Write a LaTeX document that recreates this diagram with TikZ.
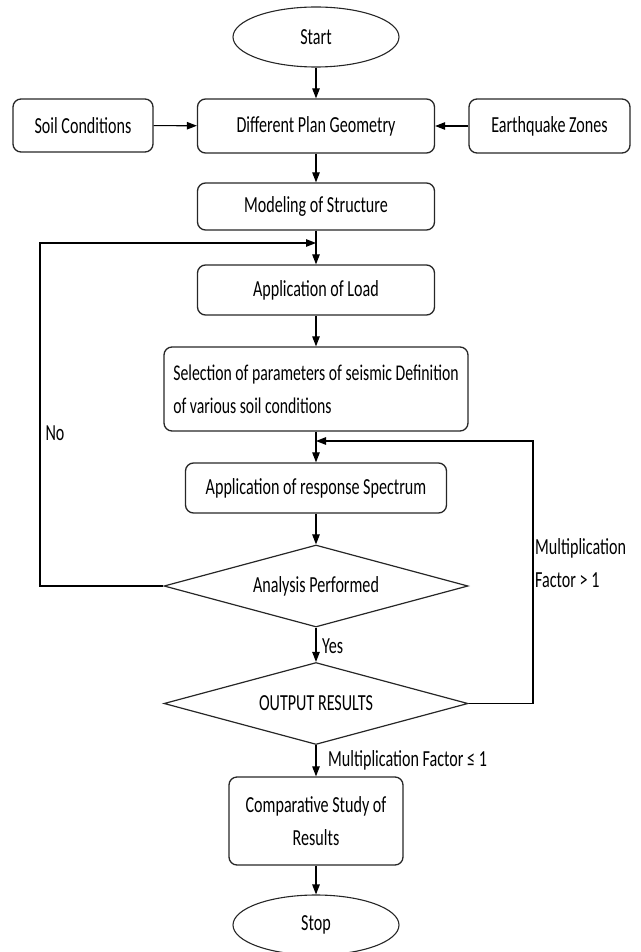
\documentclass[tikz,border=0pt]{standalone}
\usepackage{fontspec}
\setmainfont{Carlito}[FakeStretch=0.7]
\usetikzlibrary{shapes.geometric,arrows.meta}
\begin{document}
\begin{tikzpicture}[x=1pt,y=-1pt,
  every node/.style={font=\fontsize{23}{33}\selectfont, text=black},
  box/.style={draw=black!85, rounded corners=8pt, line width=1.3pt, inner sep=0pt, align=center},
  oval/.style={draw=black!85, ellipse, line width=1.1pt, inner sep=0pt, minimum width=166pt, minimum height=60pt},
  dia/.style={draw=black!85, diamond, aspect=3.7, line width=1.2pt, inner sep=0pt, minimum width=304pt, minimum height=82pt},
  lbl/.style={inner sep=0pt, align=left},
  arr/.style={line width=1.1pt, -{Triangle[length=10pt,width=7.5pt]}}]
\useasboundingbox (0,0) rectangle (640,952);
% nodes
\node[oval] (start) at (316,37) {Start};
\node[box, minimum width=140pt, minimum height=53pt] (soil) at (83,125.5) {Soil Conditions};
\node[box, minimum width=237pt, minimum height=54pt] (diff) at (316,126) {Different Plan Geometry};
\node[box, minimum width=161pt, minimum height=54pt] (quake) at (549.5,126) {Earthquake Zones};
\node[box, minimum width=237pt, minimum height=47pt] (model) at (316,206.5) {Modeling of Structure};
\node[box, minimum width=237pt, minimum height=50pt] (load) at (316,290) {Application of Load};
\node[box, minimum width=304pt, minimum height=84pt, align=left, font=\fontsize{22.5}{33}\selectfont] (sel) at (316,389)
  {Selection of parameters of seismic Definition\\of various soil conditions};
\node[box, minimum width=261pt, minimum height=50pt] (resp) at (316,488) {Application of response Spectrum};
\node[dia] (ana) at (316,586) {Analysis Performed};
\node[dia] (out) at (316,703.5) {OUTPUT RESULTS};
\node[box, minimum width=174pt, minimum height=88pt] (comp) at (316,821) {Comparative Study of\\Results};
\node[oval] (stop) at (316,925) {Stop};
% labels
\node[lbl] (no) at (55,433) {No};
\node[lbl, anchor=west] (yes) at (322,646) {Yes};
\node[lbl, anchor=west] (mfg) at (535,563.5) {Multiplication\\Factor > 1};
\node[lbl, anchor=west] (mfl) at (328,760) {Multiplication Factor ≤ 1};
% loop points
\coordinate (nl) at (40,586);
\coordinate (nt) at (40,243);
\coordinate (nm) at (316,243);
\coordinate (r1) at (533,703.5);
\coordinate (r2) at (533,441);
\coordinate (r3) at (316,441);
% connectors
\draw[arr] (start) -- (diff);
\draw[arr] (soil) -- (diff);
\draw[arr] (quake) -- (diff);
\draw[arr] (diff) -- (model);
\draw[arr] (model) -- (load);
\draw[arr] (load) -- (sel);
\draw[arr] (sel) -- (resp);
\draw[arr] (resp) -- (ana);
\draw[arr] (ana) -- (out);
\draw[arr] (out) -- (comp);
\draw[arr] (comp) -- (stop);
\draw[arr] (ana.west) -- (nl) -- (nt) -- (nm);
\draw[arr] (out.east) -- (r1) -- (r2) -- (r3);
\end{tikzpicture}
\end{document}
